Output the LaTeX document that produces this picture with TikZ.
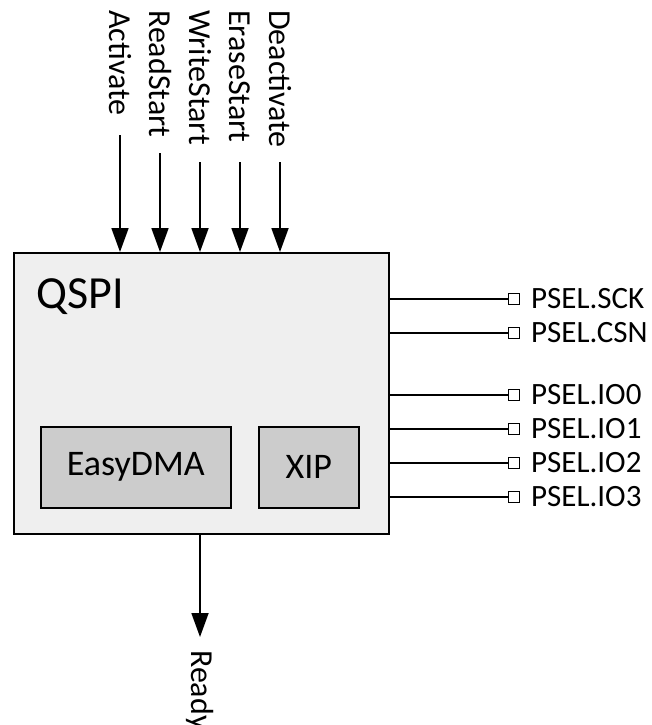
\documentclass[tikz,border=0pt]{standalone}
\usepackage{fontspec}
\setmainfont{Carlito}
\usetikzlibrary{arrows.meta}
\definecolor{outerfill}{HTML}{EFEFEF}
\definecolor{innerfill}{HTML}{CCCCCC}
\begin{document}
\begin{tikzpicture}[x=1pt,y=-1pt,
  lbl/.style={inner sep=0pt, font=\fontsize{31}{36}\selectfont},
  toplbl/.style={inner sep=0pt, font=\fontsize{32}{37}\selectfont, rotate=-90, anchor=west},
  arr/.style={line width=1.8pt, -{Triangle[length=24pt,width=17pt]}},
  pinline/.style={line width=1.8pt},
  pinsq/.style={draw, line width=1.2pt, fill=white, minimum size=11pt, inner sep=0pt, anchor=west},
  innerbox/.style={draw, line width=1.5pt, fill=innerfill, minimum height=81pt, anchor=north west, font=\fontsize{36}{42}\selectfont}
]
\useasboundingbox (0,0) rectangle (651,725);

% main block
\node[draw, line width=2pt, fill=outerfill, minimum width=375pt, minimum height=281pt, anchor=north west, inner sep=0pt] (qspi) at (13,252) {};
\node[inner sep=0pt, anchor=base west, font=\fontsize{46}{52}\selectfont] (qspilbl) at (36,308) {QSPI};

\node[innerbox, minimum width=190pt] (dma) at (40,426) {EasyDMA};
\node[innerbox, minimum width=100pt] (xip) at (258,426) {XIP};

% top tasks
\node[toplbl] (tact) at (120,10) {Activate};
\node[toplbl] (trd) at (160,10) {ReadStart};
\node[toplbl] (twr) at (200,10) {WriteStart};
\node[toplbl] (ter) at (240,10) {EraseStart};
\node[toplbl] (tdeact) at (280,10) {Deactivate};

\coordinate (sact) at (120,135);
\coordinate (srd) at (160,153);
\coordinate (swr) at (200,162);
\coordinate (ser) at (240,162);
\coordinate (sdeact) at (280,162);

\draw[arr] (sact) -- (sact |- qspi.north);
\draw[arr] (srd) -- (srd |- qspi.north);
\draw[arr] (swr) -- (swr |- qspi.north);
\draw[arr] (ser) -- (ser |- qspi.north);
\draw[arr] (sdeact) -- (sdeact |- qspi.north);

% ready event
\coordinate (rdytip) at (200,637);
\draw[arr] (rdytip |- qspi.south) -- (rdytip);
\node[toplbl] (rdy) at (200,650) {Ready};

% pins
\foreach \n/\yy/\t in {p1/299/PSEL.SCK, p2/333/PSEL.CSN, p3/395/PSEL.IO0, p4/429/PSEL.IO1, p5/463/PSEL.IO2, p6/497/PSEL.IO3}{
  \node[pinsq] (\n) at (508,\yy) {};
  \node[lbl, anchor=west] (\n l) at (531,\yy) {\t};
  \draw[pinline] (qspi.east |- \n.west) -- (\n.west);
}
\end{tikzpicture}
\end{document}
